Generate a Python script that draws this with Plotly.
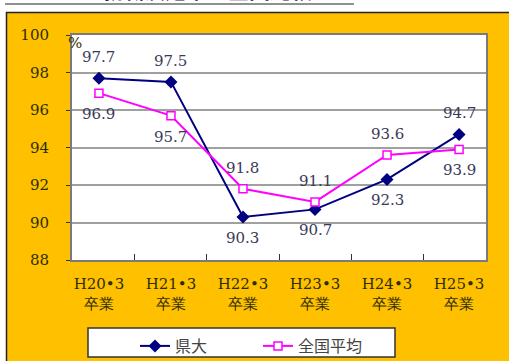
import plotly.graph_objects as go

# Graduation years (category axis) and employment rates (%)
categories = ["H20•3<br>卒業", "H21•3<br>卒業", "H22•3<br>卒業",
              "H23•3<br>卒業", "H24•3<br>卒業", "H25•3<br>卒業"]
kendai = [97.7, 97.5, 90.3, 90.7, 92.3, 94.7]
zenkoku = [96.9, 95.7, 91.8, 91.1, 93.6, 93.9]
kendai_label_side = ["above", "above", "below", "below", "below", "above"]
zenkoku_label_side = ["below", "below", "above", "above", "above", "below"]
y_ticks = [88, 90, 92, 94, 96, 98, 100]

W, H = 509, 361
L, R, T, B = 72, 23, 35, 101
PW, PH = W - L - R, H - T - B


def px_x(p):
    return (p - L) / PW


def px_y(p):
    return (H - B - p) / PH


ORANGE = "#FFC000"
TICK_COLOR = "#2e2e00"
LABEL_COLOR = "#3a3a58"
SERIF = "DejaVu Serif"

fig = go.Figure()
fig.add_trace(go.Scatter(
    x=categories, y=kendai, name="県大", mode="lines+markers",
    line=dict(color="#000080", width=2),
    marker=dict(symbol="diamond", size=10, color="#000080"),
))
fig.add_trace(go.Scatter(
    x=categories, y=zenkoku, name="全国平均", mode="lines+markers",
    line=dict(color="#FF00FF", width=2),
    marker=dict(symbol="square", size=8, color="white",
                line=dict(color="#FF00FF", width=1.5)),
))

annotations = []
for values, sides in ((kendai, kendai_label_side), (zenkoku, zenkoku_label_side)):
    for cat, v, side in zip(categories, values, sides):
        annotations.append(dict(
            x=cat, y=v, xref="x", yref="y", text=f"{v:.1f}", showarrow=False,
            yshift=21 if side == "above" else -21,
            font=dict(family=SERIF, size=15, color=LABEL_COLOR),
        ))

# percent sign next to the top tick
annotations.append(dict(
    x=px_x(66), y=px_y(32), xref="paper", yref="paper", text="%",
    showarrow=False, font=dict(family=SERIF, size=15, color=TICK_COLOR),
))
# section heading above the panel
annotations.append(dict(
    x=px_x(100), y=px_y(6.5), xref="paper", yref="paper", xanchor="left",
    yanchor="bottom", text="<b>就職決定率（全国比較）</b>", showarrow=False,
    font=dict(family="Noto Sans CJK JP", size=21, color="#111"),
))

shapes = [
    # orange panel
    dict(type="rect", xref="paper", yref="paper", layer="below",
         x0=px_x(6.5), x1=px_x(530), y0=px_y(380), y1=px_y(12.5),
         fillcolor=ORANGE, line=dict(color="#222", width=1.5)),
    # white plot area with a soft shadow
    dict(type="rect", xref="paper", yref="paper", layer="below",
         x0=0, x1=px_x(L + PW + 2), y0=px_y(H - B + 2), y1=1,
         fillcolor="#9a9a9a", line=dict(width=0)),
    dict(type="rect", xref="paper", yref="paper", layer="below",
         x0=0, x1=1, y0=0, y1=1, fillcolor="white", line=dict(width=0)),
    # legend frame
    dict(type="rect", xref="paper", yref="paper", layer="below",
         x0=px_x(88), x1=px_x(395), y0=px_y(357), y1=px_y(328),
         fillcolor="white", line=dict(color="#333", width=1.5)),
    # heading underline
    dict(type="line", xref="paper", yref="paper",
         x0=px_x(5), x1=px_x(354), y0=px_y(4), y1=px_y(4),
         line=dict(color="#222", width=1)),
]

fig.update_layout(
    width=W, height=H,
    margin=dict(l=L, r=R, t=T, b=B, pad=0, autoexpand=False),
    paper_bgcolor="white", plot_bgcolor="rgba(0,0,0,0)",
    showlegend=True,
    legend=dict(
        orientation="h", xref="container", yref="container",
        x=135 / W, y=1 - 329 / H, xanchor="left", yanchor="top",
        bgcolor="rgba(0,0,0,0)", borderwidth=0, entrywidth=78,
        font=dict(family="Noto Sans CJK JP", size=16, color="#444"),
        itemwidth=30,
    ),
    annotations=annotations,
    shapes=shapes,
)
fig.update_xaxes(
    type="category", tickson="boundaries", ticks="inside", ticklen=6,
    tickcolor="#333", tickwidth=1, automargin=False,
    showline=True, mirror=True, linecolor="#7a7a7a", linewidth=2,
    showgrid=False, ticklabelstandoff=9,
    tickfont=dict(family=SERIF, size=15, color=TICK_COLOR),
)
fig.update_yaxes(
    range=[88, 100], tickvals=y_ticks, ticks="outside", ticklen=4,
    tickcolor="#333", showline=True, mirror=True, linecolor="#7a7a7a",
    linewidth=2, showgrid=True, gridcolor="#a0a0a0", gridwidth=1.5,
    ticklabelstandoff=14, zeroline=False, automargin=False,
    tickfont=dict(family=SERIF, size=15, color=TICK_COLOR),
)

fig.write_html("out.html")
